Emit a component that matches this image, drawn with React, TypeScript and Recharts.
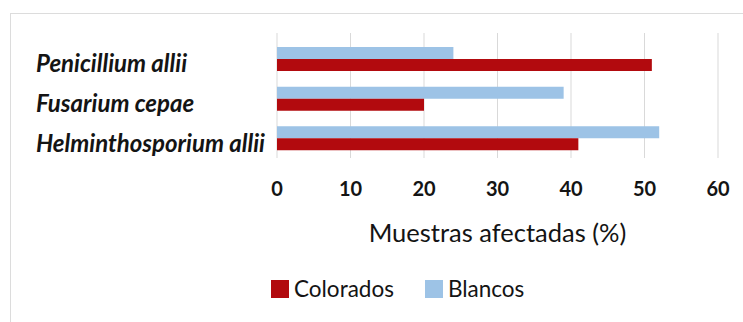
import { BarChart, Bar, XAxis, YAxis, CartesianGrid, Legend } from 'recharts';

const categories = ['Penicillium allii', 'Fusarium cepae', 'Helminthosporium allii'];
const colorados = [51, 20, 41];
const blancos = [24, 39, 52];
const xTicks = [0, 10, 20, 30, 40, 50, 60];

const RED = '#b20a0e';
const BLUE = '#9dc3e6';
const FONT = 'Lato, "Noto Sans", sans-serif';
const TEXT = '#141414';

const data = categories.map((name, i) => ({ name, Colorados: colorados[i], Blancos: blancos[i] }));

function CategoryTick({ y, payload }: any) {
  return (
    <text x={36} y={y + 4} textAnchor="start" dominantBaseline="central"
      fontFamily={FONT} fontSize={24} fontWeight={700} fontStyle="italic" fill={TEXT}>
      {payload.value}
    </text>
  );
}

function ValueTick({ x, y, payload }: any) {
  return (
    <text x={x} y={y + 22} textAnchor="middle" dominantBaseline="central"
      fontFamily={FONT} fontSize={20} fontWeight={700} fill={TEXT}>
      {payload.value}
    </text>
  );
}

function AxisTitle({ viewBox }: any) {
  return (
    <text x={viewBox.x + viewBox.width / 2} y={viewBox.y + 74} textAnchor="middle" dominantBaseline="central"
      fontFamily={FONT} fontSize={25.5} fill={TEXT}>
      Muestras afectadas (%)
    </text>
  );
}

function LegendBox({ payload }: any) {
  const items = (payload || []).slice().reverse();
  return (
    <div style={{ display: 'flex', alignItems: 'center', fontFamily: FONT, fontSize: 22.5, color: TEXT, lineHeight: '18px' }}>
      {items.map((it: any) => (
        <span key={it.value} style={{ display: 'flex', alignItems: 'center', marginRight: 31 }}>
          <span style={{ width: 18, height: 18, background: it.color, marginRight: 5 }} />
          <span>{it.value}</span>
        </span>
      ))}
    </div>
  );
}

export default function App() {
  return (
    <div style={{ position: 'absolute', left: 0, top: 0, width: 743, height: 322, background: '#fff', overflow: 'hidden' }}>
      <div style={{
        position: 'absolute', left: 10, top: 13, width: 760, height: 340,
        borderTop: '1px solid #dcdcdc', borderLeft: '1px solid #dcdcdc',
      }} />
      <BarChart width={743} height={322} data={data} layout="vertical"
        margin={{ top: 33, right: 25, left: 0, bottom: 134 }} barGap={0} barSize={12}>
        <CartesianGrid horizontal={false} stroke="#d9d9d9" strokeWidth={1} />
        <XAxis type="number" domain={[0, 60]} ticks={xTicks} axisLine={false} tickLine={false}
          height={30} tick={<ValueTick />} label={<AxisTitle />} />
        <YAxis type="category" dataKey="name" width={277} axisLine={false} tickLine={false}
          padding={{ top: 6, bottom: 0 }} tick={<CategoryTick />} />
        <Legend layout="horizontal" verticalAlign="middle" align="center"
          wrapperStyle={{ top: 280, left: 271, width: 'auto' }} content={<LegendBox />} />
        <Bar dataKey="Blancos" fill={BLUE} isAnimationActive={false} />
        <Bar dataKey="Colorados" fill={RED} isAnimationActive={false} />
      </BarChart>
    </div>
  );
}
